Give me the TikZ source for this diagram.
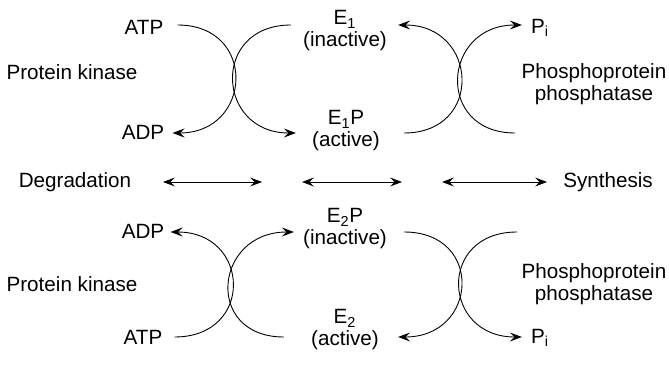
\documentclass[tikz,border=0pt]{standalone}
\usepackage{fontspec}
\setmainfont{Liberation Sans}
\usetikzlibrary{arrows.meta,positioning,calc}

\begin{document}
\begin{tikzpicture}[
  x=0.0235cm, y=-0.0235cm,
  font=\fontsize{13.8}{14.7}\selectfont,
  lbl/.style={inner sep=0pt, align=center},
  arc/.style={-{Stealth[length=8pt,width=6pt,inset=3pt]}, line width=0.6pt},
  biarr/.style={{Stealth[length=8pt,width=6pt,inset=3pt]}-{Stealth[length=8pt,width=6pt,inset=3pt]}, line width=0.6pt},
]

\def\bw{80} % bulge of the half-circle arcs
\useasboundingbox (0,0) rectangle (669,366);

%% --- Upper cycle: E1 ---
\node[lbl] (pk1) at (72,72) {Protein kinase};
\node[lbl] (atp1) at (144,27) {ATP};
\node[lbl] (adp1) at (143,132) {ADP};
\node[lbl] (e1) at (345,31) {E\textsubscript{1}\\(inactive)};
\node[lbl] (e1p) at (346,131) {E\textsubscript{1}P\\(active)};
\node[lbl] (pi1) at (540,28) {P\textsubscript{i}};
\node[lbl] (pp1) at (594,84) {Phosphoprotein\\phosphatase};
\coordinate (w1) at (515,133);

\draw[arc] ($(atp1.east)+(14,-2)$) .. controls +(\bw,0) and +(\bw,0) .. ($(adp1.east)+(8,1)$);
\draw[arc] ($(e1.west)+(-12,-6)$) .. controls +(-\bw,0) and +(-\bw,0) .. ($(e1p.west)+(-16,2)$);
\draw[arc] ($(e1p.east)+(24,2)$) .. controls +(\bw,0) and +(\bw,0) .. ($(e1.east)+(11,-6)$);
\draw[arc] (w1) .. controls +(-\bw,0) and +(-\bw,0) .. ($(pi1.west)+(-9,-3)$);

%% --- Degradation / synthesis ---
\node[lbl] (deg) at (75,182) {Degradation};
\node[lbl] (syn) at (608,182) {Synthesis};
\coordinate (dg1) at (163,182);
\coordinate (dg2) at (262,182);
\coordinate (md1) at (302,182);
\coordinate (md2) at (402,182);
\coordinate (sy1) at (442,182);
\coordinate (sy2) at (547,182);
\draw[biarr] (dg1) -- (dg2);
\draw[biarr] (md1) -- (md2);
\draw[biarr] (sy1) -- (sy2);

%% --- Lower cycle: E2 ---
\node[lbl] (pk2) at (72,284) {Protein kinase};
\node[lbl] (adp2) at (143,231) {ADP};
\node[lbl] (atp2) at (143,337) {ATP};
\node[lbl] (e2p) at (345,229) {E\textsubscript{2}P\\(inactive)};
\node[lbl] (e2) at (345,330) {E\textsubscript{2}\\(active)};
\node[lbl] (pi2) at (540,338) {P\textsubscript{i}};
\node[lbl] (pp2) at (594,284) {Phosphoprotein\\phosphatase};
\coordinate (w2) at (517,232);

\draw[arc] ($(atp2.east)+(12,0)$) .. controls +(\bw,0) and +(\bw,0) .. ($(adp2.east)+(6,1)$);
\draw[arc] ($(e2.west)+(-27,7)$) .. controls +(-\bw,0) and +(-\bw,0) .. ($(e2p.west)+(-9,3)$);
\draw[arc] ($(e2p.east)+(17,3)$) .. controls +(\bw,0) and +(\bw,0) .. ($(e2.east)+(19,7)$);
\draw[arc] (w2) .. controls +(-\bw,0) and +(-\bw,0) .. ($(pi2.west)+(-9,-1)$);

\end{tikzpicture}
\end{document}
